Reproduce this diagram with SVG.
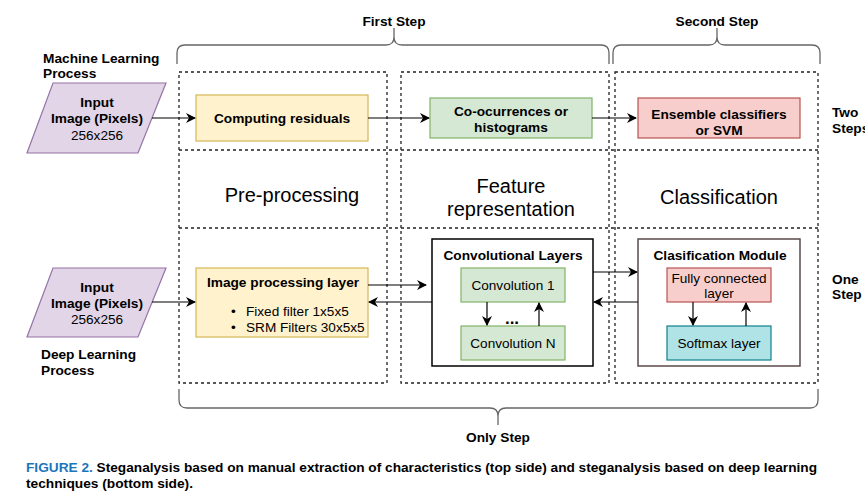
<svg xmlns="http://www.w3.org/2000/svg" width="865" height="497" viewBox="0 0 865 497">
<defs>
<marker id="ah" viewBox="0 0 10 10" refX="9" refY="5" markerWidth="10" markerHeight="10" markerUnits="userSpaceOnUse" orient="auto">
<path d="M0,0 L10,5 L0,10 L3,5 Z" fill="#000"/>
</marker>
</defs>
<style>
text{font-family:"Liberation Sans",Arial,sans-serif;fill:#000;}
.b{font-weight:bold;font-size:13.7px;}
.r{font-size:13.6px;}
.big{font-size:20px;}
.c{text-anchor:middle;}
.dash{fill:none;stroke:#222;stroke-width:1.3;stroke-dasharray:3 3;}
.brace{fill:none;stroke:#666;stroke-width:1.3;}
.conn{fill:none;stroke:#000;stroke-width:1.2;marker-end:url(#ah);}
.cap{font-weight:bold;font-size:13px;}
</style>
<rect width="865" height="497" fill="#fff"/>

<g id="grid">
<rect class="dash" x="179" y="72" width="208" height="311"/>
<rect class="dash" x="401" y="72" width="208" height="311"/>
<rect class="dash" x="615" y="72" width="203" height="311"/>
<line class="dash" x1="179" y1="150" x2="818" y2="150"/>
<line class="dash" x1="179" y1="228" x2="818" y2="228"/>
</g>

<g id="braces">
<path class="brace" d="M177,64 L177,53 Q177,45 185,45 L386,45 Q394,45 394,37 L394,28 M394,37 Q394,45 402,45 L601,45 Q609,45 609,53 L609,64"/>
<path class="brace" d="M613,64 L613,53 Q613,45 621,45 L709,45 Q717,45 717,37 L717,28 M717,37 Q717,45 725,45 L812,45 Q820,45 820,53 L820,64"/>
<path class="brace" d="M179,389 L179,400 Q179,408 187,408 L490,408 Q498,408 498,416 L498,425 M498,416 Q498,408 506,408 L810,408 Q818,408 818,400 L818,389"/>
<text class="b c" x="394" y="26">First Step</text>
<text class="b c" x="717" y="26">Second Step</text>
<text class="b c" x="498" y="442">Only Step</text>
</g>

<g id="labels">
<text class="b" x="43" y="63">Machine Learning</text>
<text class="b" x="43" y="78">Process</text>
<text class="b" x="41" y="359">Deep Learning</text>
<text class="b" x="41" y="375">Process</text>
<text class="b" x="832" y="117">Two</text>
<text class="b" x="832" y="133">Steps</text>
<text class="b" x="832" y="284">One</text>
<text class="b" x="832" y="299">Step</text>
<text class="big c" x="292" y="202">Pre-processing</text>
<text class="big c" x="511" y="193">Feature</text>
<text class="big c" x="511" y="216">representation</text>
<text class="big c" x="719" y="204">Classification</text>
</g>

<g id="input1">
<polygon points="53,83 166,83 138,153 27,153" fill="#e1d5e7" stroke="#9673a6" stroke-width="1.2"/>
<text class="b c" x="97" y="107">Input</text>
<text class="b c" x="97" y="123">Image (Pixels)</text>
<text class="r c" x="97" y="140">256x256</text>
</g>

<g id="input2">
<polygon points="53,268 166,268 138,337 27,337" fill="#e1d5e7" stroke="#9673a6" stroke-width="1.2"/>
<text class="b c" x="97" y="292">Input</text>
<text class="b c" x="97" y="308">Image (Pixels)</text>
<text class="r c" x="97" y="324">256x256</text>
</g>

<g id="residuals">
<rect x="196" y="95" width="172" height="46" fill="#fff2cc" stroke="#d6b656" stroke-width="1.2"/>
<text class="b c" x="282" y="123">Computing residuals</text>
</g>

<g id="cooc">
<rect x="430" y="98" width="162" height="40" fill="#d5e8d4" stroke="#82b366" stroke-width="1.2"/>
<text class="b c" x="511" y="116">Co-ocurrences or</text>
<text class="b c" x="511" y="132">histograms</text>
</g>

<g id="ensemble">
<rect x="638" y="98" width="162" height="40" fill="#f8cecc" stroke="#b85450" stroke-width="1.2"/>
<text class="b c" x="719" y="119">Ensemble classifiers</text>
<text class="b c" x="719" y="135">or SVM</text>
</g>

<g id="imgproc">
<rect x="196" y="268" width="172" height="69" fill="#fff2cc" stroke="#d6b656" stroke-width="1.2"/>
<text class="b c" x="283" y="287">Image processing layer</text>
<text class="r" x="231" y="316">•</text>
<text class="r" x="246" y="316">Fixed filter 1x5x5</text>
<text class="r" x="231" y="332">•</text>
<text class="r" x="246" y="332">SRM Filters 30x5x5</text>
</g>

<g id="convlayers">
<rect x="432" y="239" width="161" height="127" fill="#fff" stroke="#000" stroke-width="1.5"/>
<text class="b c" x="513" y="260">Convolutional Layers</text>
</g>
<g id="conv1">
<rect x="461" y="268" width="104" height="34" fill="#d5e8d4" stroke="#82b366" stroke-width="1.2"/>
<text class="r c" x="513" y="290">Convolution  1</text>
</g>
<g id="convN">
<rect x="461" y="326" width="104" height="34" fill="#d5e8d4" stroke="#82b366" stroke-width="1.2"/>
<text class="r c" x="513" y="348">Convolution  N</text>
</g>
<text class="c" x="512" y="324" style="font-weight:bold;font-size:17px">...</text>

<g id="clasmodule">
<rect x="638" y="239" width="162" height="127" fill="#fff" stroke="#5a4a4a" stroke-width="1.5"/>
<text class="b c" x="720" y="260">Clasification Module</text>
</g>
<g id="fc">
<rect x="667" y="268" width="104" height="34" fill="#f8cecc" stroke="#b85450" stroke-width="1.2"/>
<text class="r c" x="719" y="283">Fully connected</text>
<text class="r c" x="719" y="298">layer</text>
</g>
<g id="softmax">
<rect x="667" y="326" width="104" height="34" fill="#b0e3e6" stroke="#0e8088" stroke-width="1.2"/>
<text class="r c" x="719" y="348">Softmax layer</text>
</g>

<g id="connectors">
<line class="conn" x1="152" y1="118" x2="195" y2="118"/>
<line class="conn" x1="368" y1="118" x2="429" y2="118"/>
<line class="conn" x1="592" y1="118" x2="636" y2="118"/>
<line class="conn" x1="152" y1="302" x2="195" y2="302"/>
<line class="conn" x1="368" y1="285" x2="426" y2="285"/>
<line class="conn" x1="432" y1="302" x2="369" y2="302"/>
<line class="conn" x1="593" y1="272" x2="637" y2="272"/>
<line class="conn" x1="638" y1="302" x2="594" y2="302"/>
<line class="conn" x1="487" y1="302" x2="487" y2="325"/>
<line class="conn" x1="539" y1="326" x2="539" y2="303"/>
<line class="conn" x1="693" y1="302" x2="693" y2="325"/>
<line class="conn" x1="746" y1="326" x2="746" y2="303"/>
</g>

<g id="caption">
<text class="cap" x="26" y="472" textLength="791" lengthAdjust="spacingAndGlyphs"><tspan fill="#1a75bc">FIGURE 2.</tspan>  Steganalysis based on manual extraction of characteristics (top side) and steganalysis based on deep learning</text>
<text class="cap" x="26" y="488" textLength="167" lengthAdjust="spacingAndGlyphs">techniques (bottom side).</text>
</g>
</svg>
